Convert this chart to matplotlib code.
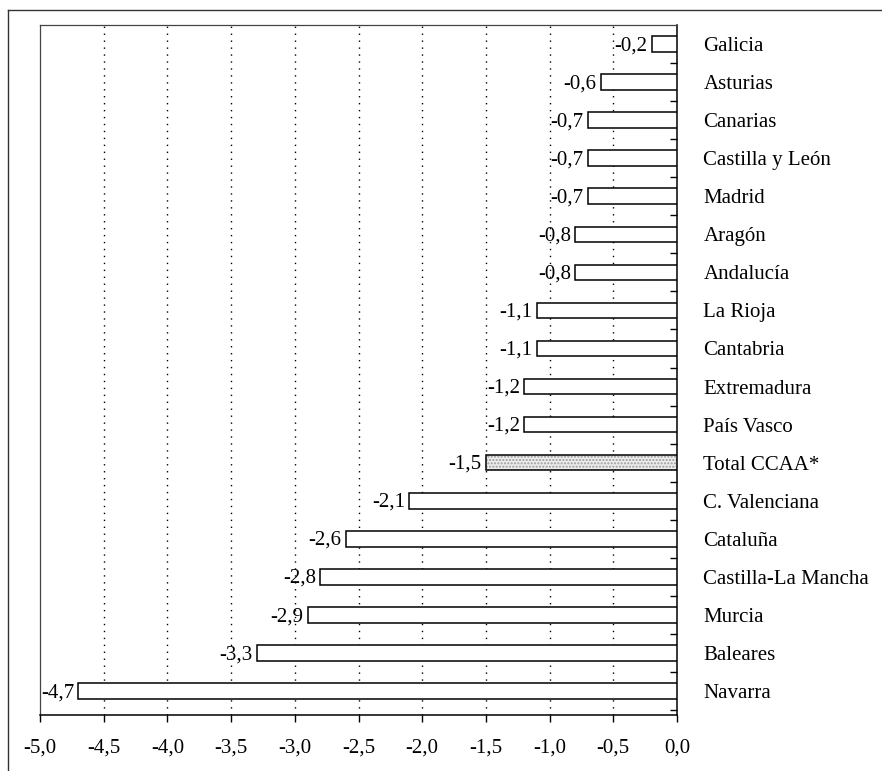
import matplotlib.pyplot as plt
import numpy as np
from matplotlib.lines import Line2D

# datos: variacion por comunidad autonoma
regiones = ["Galicia", "Asturias", "Canarias", "Castilla y León", "Madrid",
            "Aragón", "Andalucía", "La Rioja", "Cantabria", "Extremadura",
            "País Vasco", "Total CCAA*", "C. Valenciana", "Cataluña",
            "Castilla-La Mancha", "Murcia", "Baleares", "Navarra"]
valores = [-0.2, -0.6, -0.7, -0.7, -0.7, -0.8, -0.8, -1.1, -1.1, -1.2,
           -1.2, -1.5, -2.1, -2.6, -2.8, -2.9, -3.3, -4.7]
etiquetas = ["-0,2", "-0,6", "-0,7", "-0,7", "-0,7", "-0,8", "-0,8", "-1,1",
             "-1,1", "-1,2", "-1,2", "-1,5", "-2,1", "-2,6", "-2,8", "-2,9",
             "-3,3", "-4,7"]
xticks = [-5.0, -4.5, -4.0, -3.5, -3.0, -2.5, -2.0, -1.5, -1.0, -0.5, 0.0]
xticklabels = ["-5,0", "-4,5", "-4,0", "-3,5", "-3,0", "-2,5", "-2,0",
               "-1,5", "-1,0", "-0,5", "0,0"]

plt.rcParams['font.family'] = ['Liberation Serif', 'DejaVu Serif']

fig = plt.figure(figsize=(8.82, 7.71), dpi=100)
ax = fig.add_axes([40/882, 56/771, 637/882, 690/771])

y = np.arange(len(regiones))
es_total = [r.startswith("Total") for r in regiones]
colores = ['#ececec' if t else 'white' for t in es_total]

# relleno (con punteado gris para el total) y luego el contorno negro
relleno = ax.barh(y, valores, height=0.41, color=colores, linewidth=0,
                  edgecolor='#9a9a9a', zorder=3)
for b, t in zip(relleno, es_total):
    if t:
        b.set_hatch('.....')
ax.barh(y, valores, height=0.41, fill=False, edgecolor='black',
        linewidth=1.1, zorder=4)

for yi, v, t in zip(y, valores, etiquetas):
    ax.annotate(t, (v, yi), xytext=(-3, -1.2), textcoords='offset points',
                ha='right', va='center', fontsize=15)

ax.set_xlim(-5.0, 0.0)
ax.set_ylim(17.63, -0.5)

ax.set_xticks(xticks)
ax.set_xticklabels(xticklabels, fontsize=15)
ax.tick_params(axis='x', direction='out', length=5, width=1, pad=12)

# etiquetas a la derecha, marcas entre categorias
ax.yaxis.tick_right()
ax.set_yticks(y)
ax.set_yticklabels(regiones, fontsize=15)
ax.set_yticks(np.arange(0.5, 17.6, 1.0), minor=True)
ax.tick_params(axis='y', which='major', length=0, pad=19)
ax.tick_params(axis='y', which='minor', direction='in', length=5, width=1,
               right=True, left=False)

for xv in xticks[1:-1]:
    ax.axvline(xv, color='black', linestyle=(0, (1, 4)), linewidth=1,
               zorder=1)

ax.spines['right'].set_color('black')
ax.spines['right'].set_linewidth(1.1)
ax.spines['bottom'].set_linewidth(1.1)
ax.spines['left'].set_color('#444444')
ax.spines['left'].set_linewidth(0.9)
ax.spines['top'].set_color('#444444')
ax.spines['top'].set_linewidth(0.9)

# marco exterior
fig.add_artist(Line2D([8/882, 8/882], [0, 1 - 10/771], color='#333333',
                      linewidth=1.0, transform=fig.transFigure))
fig.add_artist(Line2D([8/882, 1], [1 - 10/771, 1 - 10/771], color='#333333',
                      linewidth=1.0, transform=fig.transFigure))

fig.savefig('out.png', dpi=100)
